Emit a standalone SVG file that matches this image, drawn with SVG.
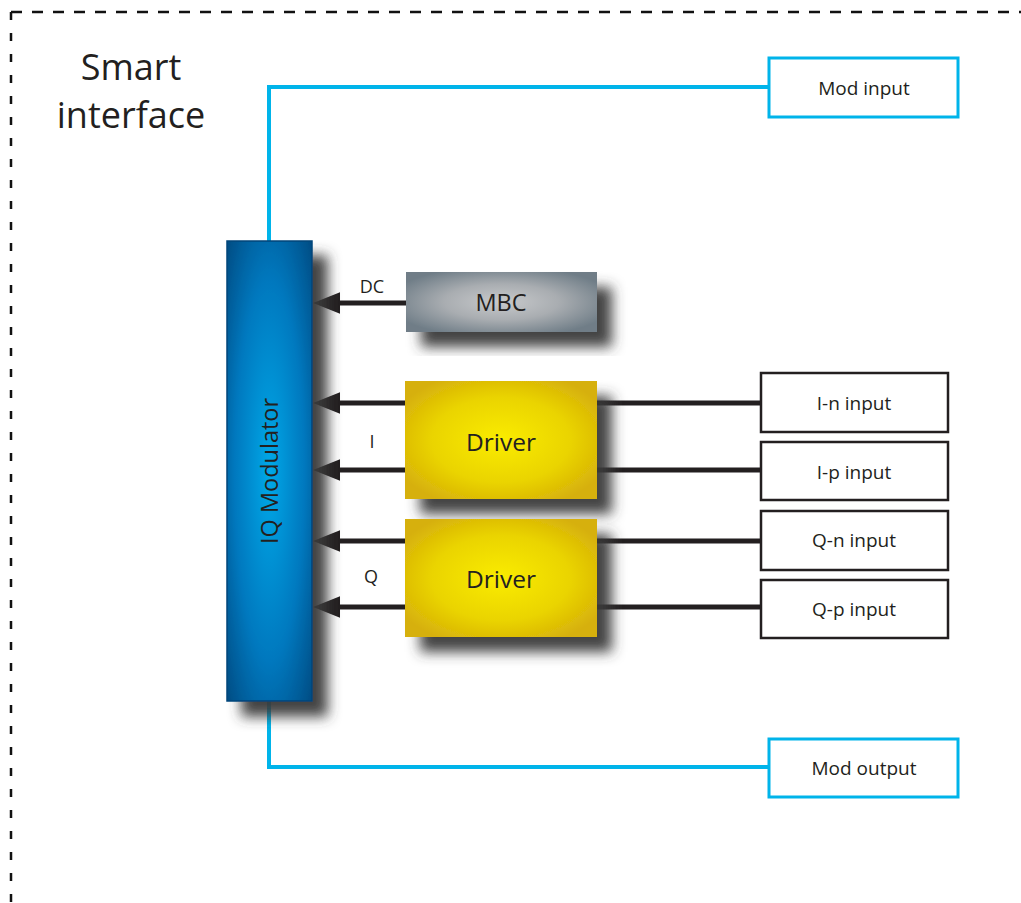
<svg xmlns="http://www.w3.org/2000/svg" width="1021" height="903" viewBox="0 0 1021 903">
<defs>
<style>
.lbl{font-family:"Open Sans","Noto Sans","Liberation Sans",sans-serif;fill:#231f20;text-anchor:middle}
.io{fill:#fff;stroke:#231f20;stroke-width:2.5}
.mod{fill:#fff;stroke:#00b4ea;stroke-width:3}
.wire{stroke:#231f20;stroke-width:5;fill:none}
.cyan{stroke:#00b4ea;stroke-width:4;fill:none}
</style>
<filter id="sh" x="-40%" y="-40%" width="180%" height="180%">
<feGaussianBlur in="SourceAlpha" stdDeviation="6.5" result="b"/>
<feOffset in="b" dx="15" dy="15" result="o"/>
<feFlood flood-color="#3a3a3a" flood-opacity="0.95"/>
<feComposite in2="o" operator="in" result="s"/>
<feMerge><feMergeNode in="s"/><feMergeNode in="SourceGraphic"/></feMerge>
</filter>
<radialGradient id="gBlue" cx="0.5" cy="0.5" r="0.75">
<stop offset="0" stop-color="#00a8e8"/>
<stop offset="0.55" stop-color="#0078be"/>
<stop offset="1" stop-color="#00457a"/>
</radialGradient>
<radialGradient id="gGrey" cx="0.5" cy="0.5" r="0.6">
<stop offset="0" stop-color="#c8cacc"/>
<stop offset="0.5" stop-color="#a9adb1"/>
<stop offset="1" stop-color="#6f7d87"/>
</radialGradient>
<radialGradient id="gYel" cx="0.5" cy="0.5" r="0.6">
<stop offset="0" stop-color="#faec00"/>
<stop offset="0.6" stop-color="#ead400"/>
<stop offset="1" stop-color="#d6b00a"/>
</radialGradient>
<marker id="ah" viewBox="0 0 10 8" refX="0" refY="4" markerWidth="5.4" markerHeight="4.3" orient="auto" markerUnits="strokeWidth">
<path d="M0,0 L10,4 L0,8 z" fill="#231f20"/>
</marker>
</defs>
<rect width="1021" height="903" fill="#fff"/>
<g id="frame" fill="none" stroke="#111" stroke-width="2.5">
<path d="M11,12 H1021" stroke-dasharray="11 10"/>
<path d="M11,12 V903" stroke-dasharray="8 13"/>
</g>
<text class="lbl" x="131" y="80" font-size="36">Smart</text>
<text class="lbl" x="131" y="128" font-size="36">interface</text>
<g id="connectors">
<path class="cyan" d="M269,241 V87 H769"/>
<path class="cyan" d="M269,701 V767 H769"/>
<path class="wire" d="M597,403 H761 M597,470 H761 M597,541 H761 M597,607 H761"/>
<path class="wire" d="M406,303 H340" marker-end="url(#ah)"/>
<path class="wire" d="M405,403 H340" marker-end="url(#ah)"/>
<path class="wire" d="M405,470 H340" marker-end="url(#ah)"/>
<path class="wire" d="M405,541 H340" marker-end="url(#ah)"/>
<path class="wire" d="M405,607 H340" marker-end="url(#ah)"/>
<text class="lbl" x="372" y="293" font-size="18">DC</text>
<text class="lbl" x="372" y="448" font-size="18">I</text>
<text class="lbl" x="371" y="583" font-size="18">Q</text>
</g>
<g id="iqmod">
<rect x="227" y="241" width="85" height="460" fill="url(#gBlue)" stroke="#00457a" stroke-width="1.5" filter="url(#sh)"/>
<text class="lbl" transform="translate(278 471) rotate(-90)" font-size="23.5" fill="#111">IQ Modulator</text>
</g>
<g id="mbc">
<rect x="406" y="272" width="191" height="60" fill="url(#gGrey)" filter="url(#sh)"/>
<text class="lbl" x="501" y="311" font-size="23.5">MBC</text>
</g>
<g id="driver1">
<rect x="405" y="381" width="192" height="118" fill="url(#gYel)" filter="url(#sh)"/>
<text class="lbl" x="501" y="451" font-size="24.5">Driver</text>
</g>
<g id="driver2">
<rect x="405" y="519" width="192" height="118" fill="url(#gYel)" filter="url(#sh)"/>
<text class="lbl" x="501" y="588" font-size="24.5">Driver</text>
</g>
<g id="modin">
<rect class="mod" x="769" y="58" width="189" height="59"/>
<text class="lbl" x="864" y="95" font-size="19">Mod input</text>
</g>
<g id="modout">
<rect class="mod" x="769" y="739" width="189" height="58"/>
<text class="lbl" x="864" y="775" font-size="19">Mod output</text>
</g>
<g id="in_n">
<rect class="io" x="761" y="373" width="187" height="59"/>
<text class="lbl" x="854" y="410" font-size="19">I-n input</text>
</g>
<g id="ip">
<rect class="io" x="761" y="442" width="187" height="58"/>
<text class="lbl" x="854" y="479" font-size="19">I-p input</text>
</g>
<g id="qn">
<rect class="io" x="761" y="511" width="187" height="59"/>
<text class="lbl" x="854" y="547" font-size="19">Q-n input</text>
</g>
<g id="qp">
<rect class="io" x="761" y="580" width="187" height="58"/>
<text class="lbl" x="854" y="616" font-size="19">Q-p input</text>
</g>
</svg>
